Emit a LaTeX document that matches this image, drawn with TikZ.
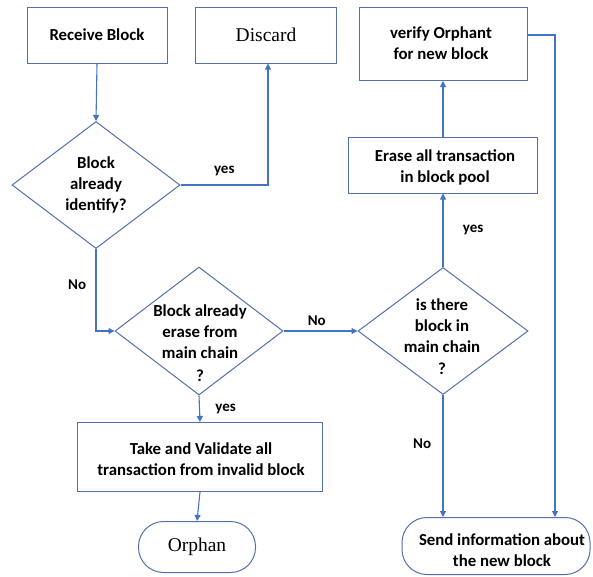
\documentclass[tikz,border=0pt]{standalone}
\usepackage{fontspec}
\setmainfont{Carlito}
\newfontfamily\serifface{Liberation Serif}
\usetikzlibrary{shapes.geometric,arrows.meta}
\definecolor{linha}{RGB}{68,114,196}
\definecolor{borda}{RGB}{82,112,170}
\begin{document}
\begin{tikzpicture}[x=1pt, y=-1pt,
  every node/.style={font=\bfseries\fontsize{16.8}{21}\selectfont, align=center},
  caixa/.style={draw=borda, line width=1pt, rectangle, inner sep=0pt},
  losango/.style={draw=borda, line width=1pt, diamond, inner sep=0pt},
  terminal/.style={draw=borda, line width=1pt, rectangle, rounded corners=25pt, inner sep=0pt},
  seta/.style={draw=linha, line width=1.1pt, -{Triangle[length=6pt,width=6pt]}},
  rotulo/.style={font=\bfseries\fontsize{15}{18}\selectfont}
]
\useasboundingbox (0,0) rectangle (593,576);
% caixas
\node[caixa, minimum width=140pt, minimum height=56pt] (recv) at (97,35) {Receive Block};
\node[caixa, minimum width=141pt, minimum height=56pt, font=\serifface\fontsize{19.5}{22}\selectfont] (disc) at (266,35) {Discard};
\node[caixa, minimum width=168pt, minimum height=73pt] (verify) at (443,44) {};
\node at (441,43) {verify Orphant\\for new block};
\node[caixa, minimum width=189pt, minimum height=56pt] (erase) at (443,165) {};
\node at (445,167) {Erase all transaction\\in block pool};
\node[caixa, minimum width=245pt, minimum height=69pt] (take) at (200,457) {};
\node at (201,459) {Take and Validate all\\transaction from invalid block};
% decisoes
\node[losango, minimum width=168pt, minimum height=127pt] (dia1) at (96,185) {};
\node at (96,185) {Block\\already\\identify?};
\node[losango, minimum width=168pt, minimum height=128pt] (dia2) at (199,331) {};
\node at (200,343) {Block already\\erase from\\main chain\\[2pt]?};
\node[losango, minimum width=170pt, minimum height=127pt] (dia3) at (443,331) {};
\node at (442,337) {is there\\block in\\main chain\\[1pt]?};
% terminais
\node[terminal, minimum width=117pt, minimum height=51pt, font=\serifface\fontsize{19.5}{22}\selectfont] (orph) at (197,547) {Orphan};
\node[terminal, minimum width=188pt, minimum height=57pt] (send) at (496,546) {};
\node at (502,550) {Send information about\\the new block};
% ligacoes
\draw[seta] (recv.south) -- (dia1.north);
\draw[seta] (dia1.east) -| ([xshift=2pt]disc.south) node[rotulo, pos=0.25, above=5pt] {yes};
\draw[seta] (dia1.south) |- (dia2.west) node[rotulo, pos=0.22, left=6pt] {No};
\draw[seta] (dia2.south) -- (take.north) node[rotulo, midway, right=12pt] {yes};
\draw[seta] (take.south) -- (orph.north);
\draw[seta] (dia2.east) -- (dia3.west) node[rotulo, pos=0.45, above=2pt] {No};
\draw[seta] (dia3.north) -- (erase.south) node[rotulo, midway, right=16pt] {yes};
\draw[seta] (erase.north) -- (verify.south);
\draw[seta] (dia3.south) -- (dia3.south |- send.north) node[rotulo, pos=0.4, left=8pt] {No};
\draw[seta] ([yshift=9pt]verify.east) -| ([xshift=59pt]send.north);
\end{tikzpicture}
\end{document}
